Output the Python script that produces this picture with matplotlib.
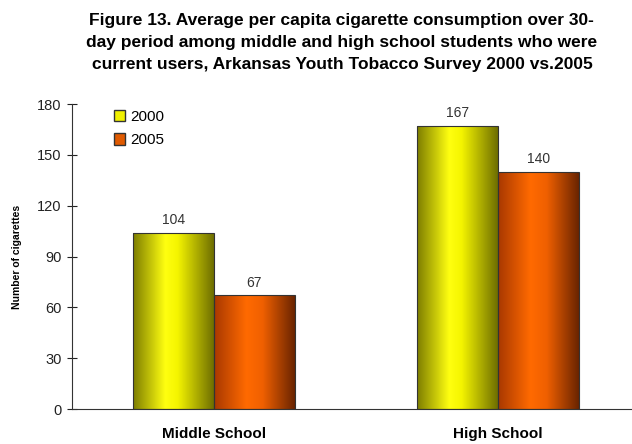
import numpy as np
import matplotlib
matplotlib.use("Agg")
from matplotlib import pyplot as plt
from matplotlib.colors import LinearSegmentedColormap
from matplotlib.patches import Patch

plt.rcParams['font.family'] = ['Liberation Sans', 'DejaVu Sans']

categories = ["Middle School", "High School"]
years = ["2000", "2005"]
values_2000 = [104, 167]
values_2005 = [67, 140]
y_ticks = [0, 30, 60, 90, 120, 150, 180]

# cylinder style shading for each series
cmap_2000 = LinearSegmentedColormap.from_list(
    "y2000", [(0, "#7d7d00"), (0.4, "#ffff10"), (0.55, "#f5f500"), (1, "#6e6e00")])
cmap_2005 = LinearSegmentedColormap.from_list(
    "y2005", [(0, "#a83800"), (0.4, "#ff6a00"), (0.6, "#f06000"), (1, "#6a2400")])

fig = plt.figure(figsize=(6.32, 4.44), dpi=100)
ax = fig.add_axes([72 / 632, 35 / 444, 560 / 632, 305 / 444])

x = np.arange(len(categories))
w = 0.285
bars_a = ax.bar(x - w / 2, values_2000, w, color="#ffff00", edgecolor="#333333", linewidth=0.8, zorder=2)
bars_b = ax.bar(x + w / 2, values_2005, w, color="#ff6600", edgecolor="#333333", linewidth=0.8, zorder=2)

grad = np.linspace(0, 1, 256).reshape(1, -1)
for bars, cmap in [(bars_a, cmap_2000), (bars_b, cmap_2005)]:
    for b in bars:
        x0, y0 = b.get_x(), b.get_y()
        im = ax.imshow(grad, cmap=cmap, aspect="auto", zorder=2.5,
                       extent=[x0, x0 + b.get_width(), y0, y0 + b.get_height()])
        im.set_clip_path(b)
        b.set_facecolor("none")
        b.set_zorder(3)

for bars in (bars_a, bars_b):
    ax.bar_label(bars, padding=4, fontsize=10, color="#333333")

ax.set_xlim(-0.5, 1.472)
ax.set_ylim(0, 180)
ax.set_yticks(y_ticks)
ax.set_xticks(x)
ax.set_xticklabels(categories, fontsize=11, fontweight="bold")
ax.tick_params(axis="x", length=0, pad=13)
ax.tick_params(axis="y", labelsize=10.5, direction="inout", length=7, pad=4, colors="#222222")
for s in ("top", "right"):
    ax.spines[s].set_visible(False)
ax.spines["left"].set_color("#333333")
ax.spines["bottom"].set_color("#333333")
ax.set_ylabel("Number of cigarettes", fontsize=7.5, fontweight="bold", labelpad=11)

handles = [Patch(facecolor="#f0f000", edgecolor="#333333"),
           Patch(facecolor="#e05a00", edgecolor="#333333")]
ax.legend(handles, years, loc="upper left", bbox_to_anchor=(0.05, 1.025), frameon=False,
          fontsize=11, handlelength=0.75, handleheight=0.75, handletextpad=0.35, labelspacing=0.6)

fig.text(0.541, 0.97,
         "Figure 13. Average per capita cigarette consumption over 30-\n"
         "day period among middle and high school students who were\n"
         "current users, Arkansas Youth Tobacco Survey 2000 vs.2005",
         ha="center", va="top", fontsize=12.5, fontweight="bold", linespacing=1.55)

fig.savefig("out.png", dpi=100)
